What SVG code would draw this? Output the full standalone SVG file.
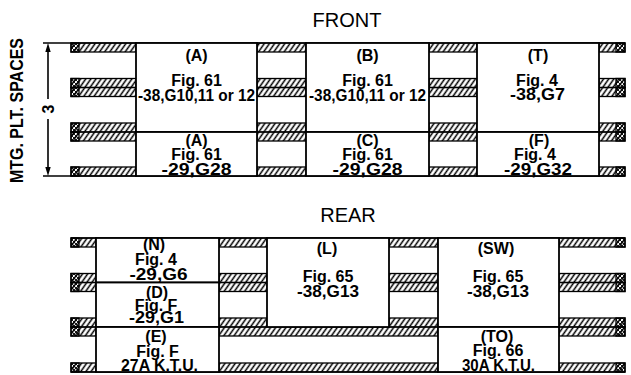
<svg xmlns="http://www.w3.org/2000/svg" width="631" height="375" viewBox="0 0 631 375">
<style>
.bar{fill:url(#hatch);stroke:#000;stroke-width:1.3}
.xh{fill:url(#xh);stroke:#000;stroke-width:1.3}
.box{fill:#fff;stroke:#000;stroke-width:1.8}
.ln{stroke:#000;stroke-width:1.6;fill:none}
.t{font-family:"Liberation Sans",Arial,sans-serif;font-weight:bold;font-size:16px;text-anchor:middle;fill:#000}
.h{font-family:"Liberation Sans",Arial,sans-serif;font-size:20px;text-anchor:middle;fill:#000}
.lab{font-family:"Liberation Sans",Arial,sans-serif;font-weight:bold;font-size:18px;text-anchor:middle;fill:#000}
</style>
<defs>
<pattern id="hatch" patternUnits="userSpaceOnUse" width="4.2" height="10" patternTransform="rotate(35)">
<line x1="2.1" y1="0" x2="2.1" y2="10" stroke="#000" stroke-width="1.5"/>
</pattern>
<pattern id="xh" patternUnits="userSpaceOnUse" width="4" height="4">
<path d="M0,4 L4,0 M0,0 L4,4" stroke="#000" stroke-width="0.9"/>
</pattern>
</defs>
<rect width="631" height="375" fill="#fff"/>

<text class="h" x="347" y="27">FRONT</text>
<text class="h" x="348" y="222">REAR</text>

<g id="front-bars">
<rect class="bar" x="71" y="43" width="65" height="9"/>
<rect class="bar" x="71" y="78.5" width="65" height="9"/>
<rect class="bar" x="71" y="87.5" width="65" height="9"/>
<rect class="bar" x="71" y="123" width="65" height="9"/>
<rect class="bar" x="71" y="132" width="65" height="9"/>
<rect class="bar" x="71" y="167" width="65" height="9"/>
<rect class="xh" x="71" y="43" width="8" height="9"/>
<rect class="xh" x="71" y="78.5" width="8" height="9"/>
<rect class="xh" x="71" y="87.5" width="8" height="9"/>
<rect class="xh" x="71" y="123" width="8" height="9"/>
<rect class="xh" x="71" y="132" width="8" height="9"/>
<rect class="xh" x="71" y="167" width="8" height="9"/>

<rect class="bar" x="257" y="43" width="49" height="9"/>
<rect class="bar" x="257" y="78.5" width="49" height="9"/>
<rect class="bar" x="257" y="87.5" width="49" height="9"/>
<rect class="bar" x="257" y="123" width="49" height="9"/>
<rect class="bar" x="257" y="132" width="49" height="9"/>
<rect class="bar" x="257" y="167" width="49" height="9"/>

<rect class="bar" x="429" y="43" width="48" height="9"/>
<rect class="bar" x="429" y="78.5" width="48" height="9"/>
<rect class="bar" x="429" y="87.5" width="48" height="9"/>
<rect class="bar" x="429" y="123" width="48" height="9"/>
<rect class="bar" x="429" y="132" width="48" height="9"/>
<rect class="bar" x="429" y="167" width="48" height="9"/>

<rect class="bar" x="599" y="43" width="26" height="9"/>
<rect class="bar" x="599" y="78.5" width="26" height="9"/>
<rect class="bar" x="599" y="87.5" width="26" height="9"/>
<rect class="bar" x="599" y="123" width="26" height="9"/>
<rect class="bar" x="599" y="132" width="26" height="9"/>
<rect class="bar" x="599" y="167" width="26" height="9"/>
<rect class="xh" x="616" y="43" width="9" height="9"/>
<rect class="xh" x="616" y="78.5" width="9" height="9"/>
<rect class="xh" x="616" y="87.5" width="9" height="9"/>
<rect class="xh" x="616" y="123" width="9" height="9"/>
<rect class="xh" x="616" y="132" width="9" height="9"/>
<rect class="xh" x="616" y="167" width="9" height="9"/>
</g>

<g id="rear-bars">
<rect class="bar" x="71" y="238" width="25" height="9"/>
<rect class="bar" x="71" y="273.5" width="25" height="9"/>
<rect class="bar" x="71" y="282.5" width="25" height="9"/>
<rect class="bar" x="71" y="318" width="25" height="9"/>
<rect class="bar" x="71" y="327" width="25" height="9"/>
<rect class="bar" x="71" y="363" width="25" height="9"/>
<rect class="xh" x="71" y="238" width="8" height="9"/>
<rect class="xh" x="71" y="273.5" width="8" height="9"/>
<rect class="xh" x="71" y="282.5" width="8" height="9"/>
<rect class="xh" x="71" y="318" width="8" height="9"/>
<rect class="xh" x="71" y="327" width="8" height="9"/>
<rect class="xh" x="71" y="363" width="8" height="9"/>

<rect class="bar" x="219" y="238" width="48" height="9"/>
<rect class="bar" x="219" y="273.5" width="48" height="9"/>
<rect class="bar" x="219" y="282.5" width="48" height="9"/>
<rect class="bar" x="219" y="318" width="48" height="9"/>

<rect class="bar" x="389" y="238" width="49" height="9"/>
<rect class="bar" x="389" y="273.5" width="49" height="9"/>
<rect class="bar" x="389" y="282.5" width="49" height="9"/>
<rect class="bar" x="389" y="318" width="49" height="9"/>

<rect class="bar" x="219" y="327" width="219" height="9"/>
<rect class="bar" x="219" y="363" width="219" height="9"/>

<rect class="bar" x="559" y="238" width="66" height="9"/>
<rect class="bar" x="559" y="273.5" width="66" height="9"/>
<rect class="bar" x="559" y="282.5" width="66" height="9"/>
<rect class="bar" x="559" y="318" width="66" height="9"/>
<rect class="bar" x="559" y="327" width="66" height="9"/>
<rect class="bar" x="559" y="363" width="66" height="9"/>
<rect class="xh" x="616" y="238" width="9" height="9"/>
<rect class="xh" x="616" y="273.5" width="9" height="9"/>
<rect class="xh" x="616" y="282.5" width="9" height="9"/>
<rect class="xh" x="616" y="318" width="9" height="9"/>
<rect class="xh" x="616" y="327" width="9" height="9"/>
<rect class="xh" x="616" y="363" width="9" height="9"/>
</g>

<g id="frame-lines">
<line class="ln" x1="43" y1="43" x2="625" y2="43"/>
<line class="ln" x1="43" y1="176" x2="625" y2="176"/>
<line class="ln" x1="71" y1="238" x2="625" y2="238"/>
<line class="ln" x1="71" y1="372" x2="625" y2="372"/>
</g>

<g id="node-A">
<rect class="box" x="136" y="43" width="121" height="89"/>
<text class="t" x="196.5" y="61">(A)</text>
<text class="t" x="196.5" y="86">Fig. 61</text>
<text class="t" x="196.5" y="101" textLength="117" lengthAdjust="spacingAndGlyphs">-38,G10,11 or 12</text>
</g>
<g id="node-A2">
<rect class="box" x="136" y="132" width="121" height="44"/>
<text class="t" x="196.5" y="146">(A)</text>
<text class="t" x="196.5" y="160">Fig. 61</text>
<text class="t" x="196.5" y="175" textLength="70" lengthAdjust="spacingAndGlyphs">-29,G28</text>
</g>
<g id="node-B">
<rect class="box" x="306" y="43" width="123" height="89"/>
<text class="t" x="367.5" y="61">(B)</text>
<text class="t" x="367.5" y="86">Fig. 61</text>
<text class="t" x="367.5" y="101" textLength="117" lengthAdjust="spacingAndGlyphs">-38,G10,11 or 12</text>
</g>
<g id="node-C">
<rect class="box" x="306" y="132" width="123" height="44"/>
<text class="t" x="367.5" y="146">(C)</text>
<text class="t" x="367.5" y="160">Fig. 61</text>
<text class="t" x="367.5" y="175" textLength="70" lengthAdjust="spacingAndGlyphs">-29,G28</text>
</g>
<g id="node-T">
<rect class="box" x="477" y="43" width="122" height="89"/>
<text class="t" x="538" y="61">(T)</text>
<text class="t" x="537" y="86">Fig. 4</text>
<text class="t" x="537.5" y="100" textLength="55" lengthAdjust="spacingAndGlyphs">-38,G7</text>
</g>
<g id="node-F">
<rect class="box" x="477" y="132" width="122" height="44"/>
<text class="t" x="539" y="146">(F)</text>
<text class="t" x="535" y="160">Fig. 4</text>
<text class="t" x="538" y="175" textLength="68" lengthAdjust="spacingAndGlyphs">-29,G32</text>
</g>

<g id="node-N">
<rect class="box" x="96" y="238" width="123" height="44.5"/>
<text class="t" x="154" y="250">(N)</text>
<text class="t" x="156" y="265">Fig. 4</text>
<text class="t" x="158.5" y="280" textLength="58" lengthAdjust="spacingAndGlyphs">-29,G6</text>
</g>
<g id="node-D">
<rect class="box" x="96" y="282.5" width="123" height="44.5"/>
<text class="t" x="157" y="298">(D)</text>
<text class="t" x="156" y="311">Fig. F</text>
<text class="t" x="156.5" y="323" textLength="55" lengthAdjust="spacingAndGlyphs">-29,G1</text>
</g>
<g id="node-E">
<rect class="box" x="96" y="327" width="123" height="45"/>
<text class="t" x="156" y="342">(E)</text>
<text class="t" x="157.5" y="357">Fig. F</text>
<text class="t" x="159.5" y="371" textLength="77" lengthAdjust="spacingAndGlyphs">27A K.T.U.</text>
</g>
<g id="node-L">
<rect class="box" x="267" y="238" width="122" height="89"/>
<text class="t" x="327" y="254">(L)</text>
<text class="t" x="328" y="282">Fig. 65</text>
<text class="t" x="328" y="297" textLength="62" lengthAdjust="spacingAndGlyphs">-38,G13</text>
</g>
<g id="node-SW">
<rect class="box" x="438" y="238" width="121" height="89"/>
<text class="t" x="496" y="254">(SW)</text>
<text class="t" x="498" y="282">Fig. 65</text>
<text class="t" x="498" y="297" textLength="62" lengthAdjust="spacingAndGlyphs">-38,G13</text>
</g>
<g id="node-TO">
<rect class="box" x="438" y="327" width="121" height="45"/>
<text class="t" x="497" y="342">(TO)</text>
<text class="t" x="498" y="356">Fig. 66</text>
<text class="t" x="498.5" y="371" textLength="73" lengthAdjust="spacingAndGlyphs">30A K.T.U.</text>
</g>

<g id="connectors">
<line class="ln" x1="48" y1="51" x2="48" y2="99"/>
<line class="ln" x1="48" y1="119" x2="48" y2="168"/>
<polygon points="48,43 45.3,52 50.7,52" fill="#000"/>
<polygon points="48,176 45.3,167 50.7,167" fill="#000"/>
</g>
<text class="t" transform="translate(53.5,109) rotate(-90)">3</text>
<text class="lab" transform="translate(22.5,110.5) rotate(-90)" textLength="145" lengthAdjust="spacingAndGlyphs">MTG. PLT. SPACES</text>
</svg>
